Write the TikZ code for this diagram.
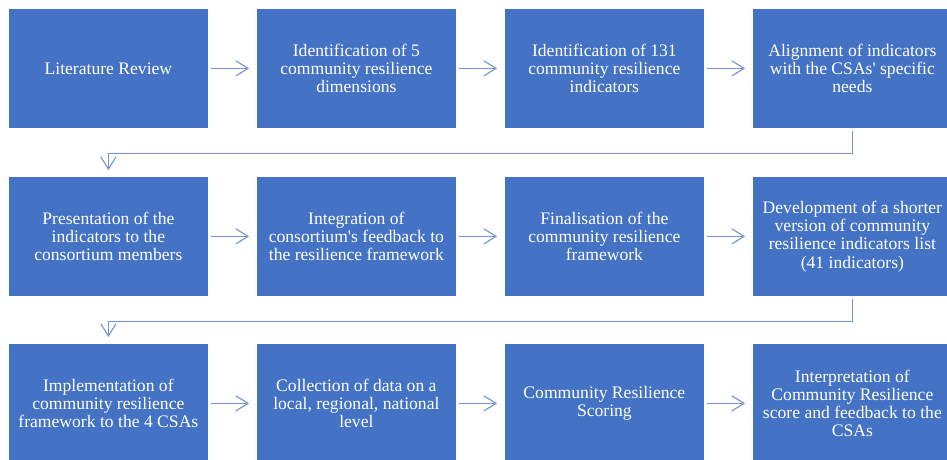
\documentclass[tikz,border=0pt]{standalone}
\usepackage{fontspec}
\setmainfont{Liberation Serif}
\usetikzlibrary{arrows.meta}
\definecolor{boxblue}{HTML}{4472C4}
\definecolor{arrblue}{RGB}{114,147,212}
\tikzset{
  stepbox/.style={draw=white, line width=0.75pt, fill=boxblue, text=white,
    minimum width=200pt, minimum height=120pt, inner sep=0pt, anchor=north west,
    align=center, font=\fontsize{17.6}{18.3}\selectfont},
  arr/.style={draw=arrblue, line width=1.1pt,
    -{Straight Barb[length=12pt,width=15pt,line width=1.1pt]}}
}
\begin{document}
\begin{tikzpicture}[x=1pt,y=-1pt]
\clip (0,0) rectangle (947,460);
\fill[white] (0,0) rectangle (947,460);
% row 1
\node[stepbox] (b1) at (8,8) {Literature Review};
\node[stepbox] (b2) at (256,8) {Identification of 5\\community resilience\\dimensions};
\node[stepbox] (b3) at (504,8) {Identification of 131\\community resilience\\indicators};
\node[stepbox] (b4) at (752,8) {Alignment of indicators\\with the CSAs\textquotesingle{} specific\\needs};
% row 2
\node[stepbox] (b5) at (8,176) {Presentation of the\\indicators to the\\consortium members};
\node[stepbox] (b6) at (256,176) {Integration of\\consortium\textquotesingle s feedback to\\the resilience framework};
\node[stepbox] (b7) at (504,176) {Finalisation of the\\community resilience\\framework};
\node[stepbox] (b8) at (752,176) {Development of a shorter\\version of community\\resilience indicators list\\(41 indicators)};
% row 3
\node[stepbox] (b9) at (8,343) {Implementation of\\community resilience\\framework to the 4 CSAs};
\node[stepbox] (b10) at (256,343) {Collection of data on a\\local, regional, national\\level};
\node[stepbox] (b11) at (504,343) {Community Resilience\\Scoring};
\node[stepbox] (b12) at (752,343) {Interpretation of\\Community Resilience\\score and feedback to the\\CSAs};
% horizontal arrows
\foreach \a/\b in {b1/b2,b2/b3,b3/b4,b5/b6,b6/b7,b7/b8,b9/b10,b10/b11,b11/b12}
  \draw[arr] ([xshift=2pt]\a.east) -- ([xshift=-7pt]\b.west);
% row connectors
\draw[arr] ([yshift=-2pt]b4.south) -- ++(0,22.7) -| ([yshift=6pt]b5.north);
\draw[arr] ([yshift=-2pt]b8.south) -- ++(0,22.7) -| ([yshift=6pt]b9.north);
\end{tikzpicture}
\end{document}
